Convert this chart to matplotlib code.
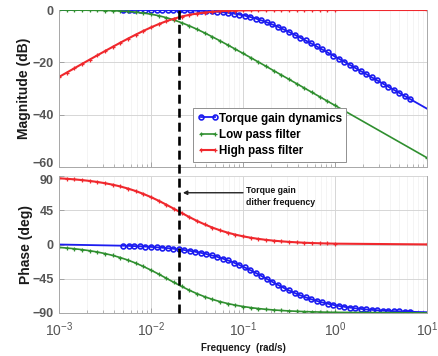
import matplotlib
matplotlib.use("Agg")
import matplotlib.pyplot as plt
from matplotlib.lines import Line2D
from matplotlib.transforms import blended_transform_factory, ScaledTranslation
from matplotlib.ticker import LogLocator, NullFormatter

plt.rcParams["font.family"] = ["Liberation Sans", "DejaVu Sans"]
plt.rcParams["mathtext.fontset"] = "custom"
plt.rcParams["mathtext.rm"] = "Liberation Sans"
plt.rcParams["mathtext.it"] = "Liberation Sans:italic"
plt.rcParams["mathtext.bf"] = "Liberation Sans:bold"

# ---- torque gain dynamics (blue): line runs 1e-3..10, markers on the inner points
tg_freq = [0.001,
           0.005012, 0.005754, 0.006607, 0.007586, 0.008710, 0.01, 0.01148, 0.01318,
           0.01514, 0.01738, 0.01995, 0.02291, 0.02630, 0.03020, 0.03467, 0.03981,
           0.04571, 0.05248, 0.06026, 0.06918, 0.07943, 0.09120, 0.1047, 0.1202,
           0.1380, 0.1585, 0.1820, 0.2089, 0.2399, 0.2754, 0.3162, 0.3631,
           0.4169, 0.4786, 0.5495, 0.6310, 0.7244, 0.8318, 0.9550, 1.096,
           1.259, 1.445, 1.660, 1.905, 2.188, 2.512, 2.884, 3.311,
           3.802, 4.365, 5.012, 5.754, 6.607,
           10.0]
tg_mag = [0.0,
          -0.01, -0.01, -0.01, -0.02, -0.02, -0.03, -0.03, -0.04,
          -0.06, -0.08, -0.10, -0.13, -0.17, -0.23, -0.30, -0.39,
          -0.51, -0.66, -0.85, -1.08, -1.38, -1.74, -2.17, -2.68,
          -3.28, -3.96, -4.71, -5.54, -6.44, -7.39, -8.40, -9.45,
          -10.52, -11.63, -12.76, -13.90, -15.06, -16.23, -17.40, -18.58,
          -19.77, -20.95, -22.15, -23.34, -24.54, -25.73, -26.93, -28.13,
          -29.33, -30.53, -31.72, -32.92, -34.12,
          -37.72]
tg_phase = [0.0,
            -1.60, -1.83, -2.10, -2.41, -2.77, -3.18, -3.65, -4.19,
            -4.81, -5.52, -6.32, -7.25, -8.31, -9.52, -10.90, -12.47,
            -14.25, -16.26, -18.51, -21.02, -23.81, -26.87, -30.19, -33.74,
            -37.48, -41.37, -45.32, -49.25, -53.12, -56.83, -60.35, -63.63,
            -66.65, -69.39, -71.87, -74.08, -76.04, -77.79, -79.33, -80.67,
            -81.86, -82.90, -83.81, -84.60, -85.30, -85.90, -86.43, -86.89,
            -87.29, -87.64, -87.94, -88.21, -88.44,
            -88.97]

# ---- filter responses (green low pass, red high pass)
filt_freq = [0.001, 0.001212, 0.001468, 0.001778, 0.002154, 0.002610, 0.003162,
             0.003831, 0.004642, 0.005623, 0.006813, 0.008254,
             0.01, 0.01212, 0.01468, 0.01778, 0.02154, 0.02610, 0.03162,
             0.03831, 0.04642, 0.05623, 0.06813, 0.08254,
             0.1, 0.1212, 0.1468, 0.1778, 0.2154, 0.2610, 0.3162,
             0.3831, 0.4642, 0.5623, 0.6813, 0.8254,
             1.0, 10.0]
lpf_mag = [-0.02, -0.03, -0.04, -0.06, -0.09, -0.13, -0.19,
           -0.27, -0.40, -0.57, -0.82, -1.15,
           -1.60, -2.18, -2.92, -3.81, -4.86, -6.05, -7.36,
           -8.76, -10.24, -11.78, -13.35, -14.95,
           -16.58, -18.21, -19.86, -21.51, -23.17, -24.83, -26.49,
           -28.15, -29.82, -31.48, -33.15, -34.81,
           -36.48, -56.48]
lpf_phase = [-3.81, -4.62, -5.59, -6.76, -8.17, -9.87, -11.91,
             -14.33, -17.20, -20.55, -24.43, -28.82,
             -33.69, -38.92, -44.38, -49.85, -55.15, -60.11, -64.62,
             -68.62, -72.09, -75.07, -77.58, -79.70,
             -81.47, -82.94, -84.16, -85.18, -86.02, -86.71, -87.28,
             -87.76, -88.15, -88.47, -88.74, -88.96,
             -89.14, -89.91]
hpf_mag = [-25.59, -23.93, -22.27, -20.61, -18.96, -17.32, -15.69,
           -14.08, -12.49, -10.94, -9.43, -7.99,
           -6.64, -5.39, -4.27, -3.31, -2.50, -1.85, -1.34,
           -0.96, -0.67, -0.47, -0.33, -0.22,
           -0.15, -0.11, -0.07, -0.05, -0.03, -0.02, -0.02,
           -0.01, -0.01, -0.01, 0.0, 0.0,
           0.0, 0.0]
hpf_phase = [86.99, 86.35, 85.58, 84.65, 83.53, 82.18, 80.55,
             78.60, 76.27, 73.51, 70.27, 66.52,
             62.24, 57.48, 52.31, 46.90, 41.41, 36.05, 31.00,
             26.38, 22.26, 18.67, 15.58, 12.96,
             10.76, 8.91, 7.38, 6.10, 5.04, 4.16, 3.44,
             2.84, 2.34, 1.94, 1.60, 1.32,
             1.09, 0.11]

dither_freq = 0.02
series_labels = ["Torque gain dynamics", "Low pass filter", "High pass filter"]
mag_ticks = [-60, -40, -20, 0]
phase_ticks = [-90, -45, 0, 45, 90]

BLUE = "#1c1cf0"
GREEN = "#2f8f2f"
RED = "#f0282d"
TICK_GRAY = "#555555"

fig = plt.figure(figsize=(4.39, 3.56), dpi=100)
ax1 = fig.add_axes([0.1344, 0.5309, 0.8383, 0.4410])
ax2 = fig.add_axes([0.1344, 0.1208, 0.8383, 0.3848])


def style_axis(ax):
    ax.set_xscale("log")
    ax.set_xlim(1e-3, 10)
    ax.xaxis.set_major_locator(LogLocator(base=10, numticks=10))
    ax.xaxis.set_minor_locator(LogLocator(base=10, subs=range(2, 10), numticks=10))
    ax.xaxis.set_minor_formatter(NullFormatter())
    ax.grid(True, which="major", color="#d6d6d6", lw=0.7)
    ax.grid(True, which="minor", axis="x", color="#f0f0f0", lw=0.5)
    ax.set_axisbelow(True)
    ax.tick_params(which="both", direction="in", colors="#9a9a9a",
                   labelcolor=TICK_GRAY, top=False, right=False)
    ax.tick_params(which="major", length=3.5, width=0.6)
    ax.tick_params(which="minor", length=2, width=0.5)
    for sp in ax.spines.values():
        sp.set_color("#a8a8a8")
        sp.set_linewidth(0.7)
    ax.spines["top"].set_visible(False)


style_axis(ax1)
style_axis(ax2)

blue_kw = dict(color=BLUE, lw=1.3, marker="o", ms=3.5, mfc="none", mew=1.2)
green_kw = dict(color=GREEN, lw=1.2, marker="+", ms=3.0, mew=0.9)
red_kw = dict(color=RED, lw=1.5, marker="+", ms=3.0, mew=0.9)
inner = slice(1, len(tg_freq) - 1)

ax1.plot(tg_freq, tg_mag, markevery=inner, label=series_labels[0], **blue_kw)
ax1.plot(filt_freq, lpf_mag, label=series_labels[1], **green_kw)
ax1.plot(filt_freq, hpf_mag, label=series_labels[2], **red_kw)

ax2.plot(tg_freq, tg_phase, markevery=inner, **blue_kw)
ax2.plot(filt_freq, lpf_phase, **green_kw)
ax2.plot(filt_freq, hpf_phase, **red_kw)

ax1.set_ylim(-60, 0)
ax1.set_yticks(mag_ticks)
ax1.tick_params(axis="x", labelbottom=False)
ax2.set_ylim(-90, 90)
ax2.set_yticks(phase_ticks)

for ax in (ax1, ax2):
    ax.tick_params(axis="y", pad=4)
    for lbl in ax.get_yticklabels():
        lbl.set_fontweight("bold")
        lbl.set_fontsize(9)
ax2.tick_params(axis="x", labelsize=10, pad=5)

# the lowest magnitude label and the highest phase label sit close together;
# nudge them apart slightly
fig.canvas.draw()
ax1.get_yticklabels()[0].set_transform(
    ax1.get_yticklabels()[0].get_transform() + ScaledTranslation(0, 3 / 72, fig.dpi_scale_trans))
ax2.get_yticklabels()[-1].set_transform(
    ax2.get_yticklabels()[-1].get_transform() + ScaledTranslation(0, -2.5 / 72, fig.dpi_scale_trans))

ax1.set_ylabel("Magnitude (dB)", fontsize=10, fontweight="bold", color="#1a1a1a", labelpad=1)
ax2.set_ylabel("Phase (deg)", fontsize=10, fontweight="bold", color="#1a1a1a", labelpad=-1)
ax2.set_xlabel("Frequency  (rad/s)", fontsize=7, fontweight="bold", color="#1a1a1a", labelpad=3)

leg = ax1.legend(loc="lower left", bbox_to_anchor=(0.364, 0.035), borderaxespad=0,
                 prop=dict(size=8.4, weight="bold"), handlelength=1.8, handletextpad=0.1,
                 labelspacing=0.38, borderpad=0.35, numpoints=2, fancybox=False,
                 framealpha=1.0, edgecolor="#909090")
leg.get_frame().set_linewidth(0.7)

# dither frequency marker spanning both panels
trans = blended_transform_factory(ax1.transData, fig.transFigure)
y_top = ax1.get_position().y1
y_bot = ax2.get_position().y0
fig.add_artist(Line2D([dither_freq, dither_freq], [y_bot, y_top], transform=trans,
                      color="black", lw=1.9, dashes=(3.4, 1.9), zorder=5))

ax2.annotate("", xy=(0.0222, 68), xytext=(0.1, 68),
             arrowprops=dict(arrowstyle="-|>", color="#222222", lw=1.0,
                             mutation_scale=6, shrinkA=0, shrinkB=0))
ax2.text(0.108, 63, "Torque gain\ndither frequency", fontsize=6.3, fontweight="bold",
         color="#111111", ha="left", va="center", linespacing=1.5)

fig.savefig("out.png", dpi=100)
